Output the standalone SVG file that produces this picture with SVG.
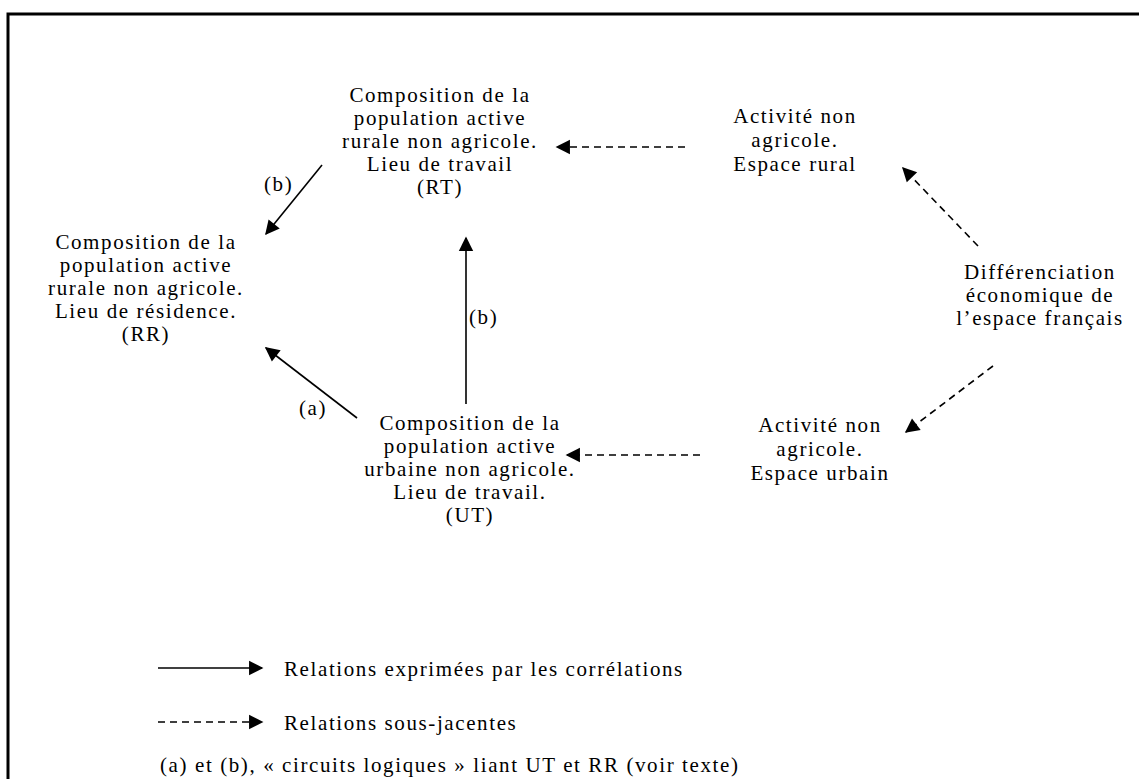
<svg xmlns="http://www.w3.org/2000/svg" width="1139" height="779" viewBox="0 0 1139 779">
<style>
text{font-family:"Liberation Serif","Times New Roman",serif;font-size:21px;letter-spacing:1.6px;fill:#000}
.c{text-anchor:middle}
.s{stroke:#000;stroke-width:1.6;fill:none}
.d{stroke:#000;stroke-width:1.6;fill:none;stroke-dasharray:7 5}
</style>
<defs>
<marker id="ah" viewBox="0 0 10 10" refX="9" refY="5" markerWidth="9" markerHeight="9" markerUnits="userSpaceOnUse" orient="auto" overflow="visible">
<path d="M0,0 L10,5 L0,10 z" fill="#000" transform="scale(1.6)" transform-origin="9 5"/>
</marker>
</defs>
<rect width="1139" height="779" fill="#fff"/>
<polyline points="8,779 8,14 1139,14" fill="none" stroke="#000" stroke-width="3"/>

<g id="RT">
<text class="c" x="440" y="102">Composition de la</text>
<text class="c" x="440" y="125">population active</text>
<text class="c" x="440" y="148">rurale non agricole.</text>
<text class="c" x="440" y="171">Lieu de travail</text>
<text class="c" x="440" y="194">(RT)</text>
</g>
<g id="RR">
<text class="c" x="146" y="249">Composition de la</text>
<text class="c" x="146" y="272">population active</text>
<text class="c" x="146" y="295">rurale non agricole.</text>
<text class="c" x="146" y="318">Lieu de résidence.</text>
<text class="c" x="146" y="341">(RR)</text>
</g>
<g id="UT">
<text class="c" x="470" y="430">Composition de la</text>
<text class="c" x="470" y="453">population active</text>
<text class="c" x="470" y="476">urbaine non agricole.</text>
<text class="c" x="470" y="499">Lieu de travail.</text>
<text class="c" x="470" y="522">(UT)</text>
</g>
<g id="AR">
<text class="c" x="795" y="123">Activité non</text>
<text class="c" x="795" y="147">agricole.</text>
<text class="c" x="795" y="171">Espace rural</text>
</g>
<g id="DE">
<text class="c" x="1040" y="279">Différenciation</text>
<text class="c" x="1040" y="302">économique de</text>
<text class="c" x="1040" y="325">l’espace français</text>
</g>
<g id="AU">
<text class="c" x="820" y="432">Activité non</text>
<text class="c" x="820" y="456">agricole.</text>
<text class="c" x="820" y="480">Espace urbain</text>
</g>

<g id="connectors">
<line class="s" x1="322" y1="165" x2="266" y2="234" marker-end="url(#ah)"/>
<line class="s" x1="466" y1="404" x2="466" y2="238" marker-end="url(#ah)"/>
<line class="s" x1="357" y1="418" x2="266" y2="348" marker-end="url(#ah)"/>
<line class="d" x1="685" y1="147" x2="557" y2="147" marker-end="url(#ah)"/>
<line class="d" x1="700" y1="455" x2="567" y2="455" marker-end="url(#ah)"/>
<line class="d" x1="978" y1="246" x2="903" y2="168" marker-end="url(#ah)"/>
<line class="d" x1="993" y1="366" x2="906" y2="432" marker-end="url(#ah)"/>
<text x="264" y="191">(b)</text>
<text x="469" y="324">(b)</text>
<text x="299" y="415">(a)</text>
</g>

<g id="legend">
<line class="s" x1="158" y1="668" x2="262" y2="668" marker-end="url(#ah)"/>
<line class="d" x1="158" y1="722" x2="262" y2="722" marker-end="url(#ah)"/>
<text x="284" y="676">Relations exprimées par les corrélations</text>
<text x="284" y="730">Relations sous-jacentes</text>
<text x="160" y="772">(a) et (b), « circuits logiques » liant UT et RR (voir texte)</text>
</g>
</svg>
